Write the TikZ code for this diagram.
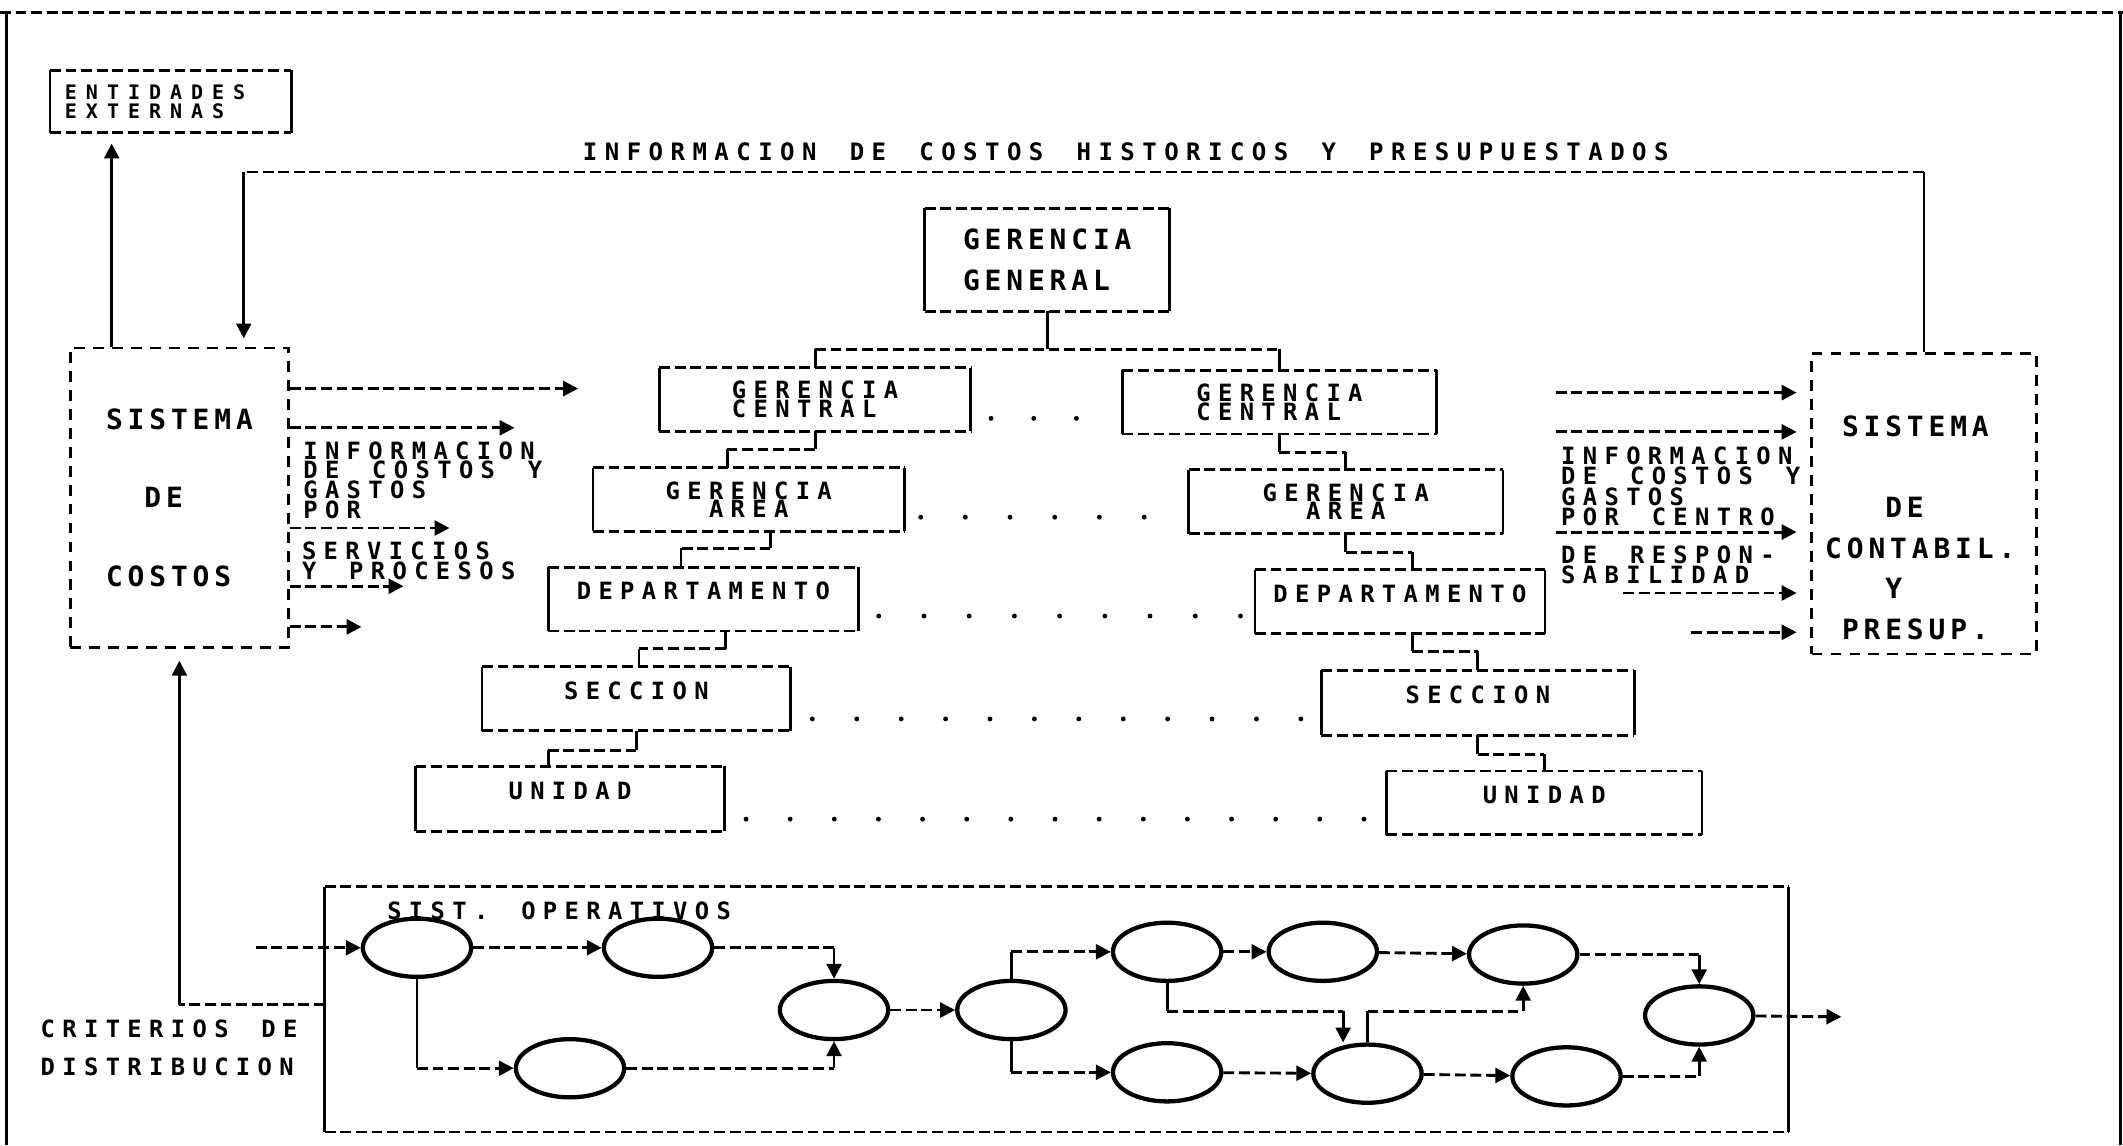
\documentclass[tikz,border=0pt]{standalone}
\usepackage{fontspec}
\usepackage{tikz}
\usetikzlibrary{arrows.meta, shapes.geometric}
\newfontfamily\dotfont{DejaVu Sans Mono}[LetterSpace=31, WordSpace=1.515]
\newfontfamily\bigfont{DejaVu Sans Mono}[LetterSpace=17.5, WordSpace=1.29]
\newfontfamily\entfont{DejaVu Sans Mono}[LetterSpace=45]

% upper node, x shift, bar y, lower node, x shift
\newcommand{\orglink}[5]{%
  \coordinate (lkA) at ([xshift=#2]#1.south);
  \coordinate (lkB) at ([xshift=#5]#4.north);
  \draw (lkA) -- (lkA |- 0,#3);
  \draw[dline] (lkA |- 0,#3) -- (lkB |- 0,#3);
  \draw (lkB |- 0,#3) -- (lkB);
}

\begin{document}
\begin{tikzpicture}[
    x=0.1mm, y=-0.1mm, line width=0.6pt,
    dline/.style={dash pattern=on 0.8mm off 0.35mm},
    arrow/.style={-{Triangle[length=1.1mm, width=1.1mm]}},
    sysbox/.style={rectangle, draw, dash pattern=on 0.8mm off 0.6mm, inner sep=0pt, minimum width=16.1mm, minimum height=22.1mm},
    hbox/.style={rectangle, inner sep=0pt, append after command={
        (\tikzlastnode.north west) edge[dline] (\tikzlastnode.north east)
        (\tikzlastnode.south west) edge[dline] (\tikzlastnode.south east)
        (\tikzlastnode.north west) edge (\tikzlastnode.south west)
        (\tikzlastnode.north east) edge (\tikzlastnode.south east)}},
    orgbox/.style={hbox, minimum width=22.8mm, minimum height=4.5mm, align=center, font=\dotfont\bfseries\fontsize{5}{3.9}\selectfont},
    onerow/.style={text height=1.3mm, text depth=1.2mm},
    proc/.style={ellipse, draw, line width=0.9pt, minimum width=8mm, minimum height=4.3mm, inner sep=0pt},
    note/.style={anchor=north west, inner sep=0pt, align=left, font=\dotfont\bfseries\fontsize{5}{4.15}\selectfont},
    bigtxt/.style={align=left, inner sep=0pt, font=\bigfont\bfseries\fontsize{5.86}{8.54}\selectfont},
]
\useasboundingbox (0,0) rectangle (1568,846);

% Frame
\draw[dline] (0,9.5) -- (1568,9.5);
\draw (5,9.5) -- (5,846);
\draw (1566,9.5) -- (1566,846);

% Nodes
\node[hbox, minimum width=17.6mm, minimum height=4.4mm, text width=15.6mm, inner xsep=1mm, align=left, font=\entfont\bfseries\fontsize{4.2}{3.98}\selectfont] (ent) at (126,75) {ENTIDADES\\EXTERNAS};
\node[sysbox, bigtxt, font=\bigfont\bfseries\fontsize{5.86}{16.5}\selectfont] (ssc) at (132.5,367.5) {SISTEMA\\\hphantom{SI}DE\\COSTOS};
\node[sysbox, minimum width=16.6mm, minimum height=22.2mm] (scp) at (1421,372) {};
\node[bigtxt, anchor=north west] (scptxt) at (1347,306) {\hphantom{C}SISTEMA\\\mbox{}\\\hphantom{CON}DE\\CONTABIL.\\\hphantom{CON}Y\\\hphantom{C}PRESUP.};
\node[hbox, bigtxt, minimum width=17.9mm, minimum height=7.4mm] (gg) at (773.5,192) {GERENCIA\\GENERAL};

% Org boxes
\node[orgbox, align=left] (gc1) at (602,295) {GERENCIA\\CENTRAL};
\node[orgbox, align=left, minimum width=23mm] (gc2) at (945,297) {GERENCIA\\CENTRAL};
\node[orgbox] (ga1) at (553,369) {GERENCIA\\AREA};
\node[orgbox, minimum width=23mm] (ga2) at (994,370.5) {GERENCIA\\AREA};
\node[orgbox, onerow, minimum width=22.7mm] (dep1) at (519.5,442.5) {DEPARTAMENTO};
\node[orgbox, onerow, minimum width=21.2mm] (dep2) at (1034,444.5) {DEPARTAMENTO};
\node[orgbox, onerow, minimum width=22.6mm] (sec1) at (470,516) {SECCION};
\node[orgbox, onerow, minimum width=22.9mm, minimum height=4.6mm] (sec2) at (1091.5,519) {SECCION};
\node[orgbox, onerow, minimum width=22.6mm, minimum height=4.6mm] (uni1) at (421,590) {UNIDAD};
\node[orgbox, onerow, minimum width=23.1mm] (uni2) at (1140.5,593) {UNIDAD};

% Labels
\node[inner sep=0pt, font=\dotfont\bfseries\fontsize{5.05}{5.5}\selectfont] (histlbl) at (831.5,112) {INFORMACION DE COSTOS HISTORICOS Y PRESUPUESTADOS};
\node[note] (lftxt1) at (223,325) {INFORMACION\\DE COSTOS Y\\GASTOS\\POR};
\node[note] (lftxt2) at (222,399) {SERVICIOS\\Y PROCESOS};
\node[note, font=\dotfont\bfseries\fontsize{5}{4.27}\selectfont] (rttxt1) at (1152,329) {INFORMACION\\DE COSTOS Y\\GASTOS\\POR CENTRO};
\node[note, font=\dotfont\bfseries\fontsize{5}{4.27}\selectfont] (rttxt2) at (1152,402) {DE RESPON-\\SABILIDAD};

% Operating systems
\node[hbox, minimum width=107.9mm, minimum height=17.9mm] (sop) at (780.5,745.5) {};
\node[note] (soplbl) at (285,665) {SIST. OPERATIVOS};
\node[note, font=\dotfont\bfseries\fontsize{5}{8.1}\selectfont] (crit) at (29,752) {CRITERIOS DE\\DISTRIBUCION};
\node[proc] (p1) at (308,700) {};
\node[proc] (p2) at (486,700) {};
\node[proc] (p3) at (421,789) {};
\node[proc] (p4) at (616,746) {};
\node[proc] (p5) at (747,746) {};
\node[proc] (p6) at (862,703) {};
\node[proc] (p7) at (977,703) {};
\node[proc] (p8) at (1125,705) {};
\node[proc] (p9) at (1255,750) {};
\node[proc] (p10) at (862,792) {};
\node[proc] (p11) at (1010,793) {};
\node[proc] (p12) at (1157,795) {};

% Arrows
\coordinate (entup) at ([xshift=-5mm]ssc.north);
\draw[arrow, shorten >=0.8mm] (entup) -- (entup |- ent.south);
\draw (scp.north) -- (scp.north |- 0,127) coordinate (infr);
\draw[dline] (infr) -- (180,127) coordinate (infl);
\draw[arrow, shorten >=0.6mm] (infl) -- (infl |- ssc.north);
\foreach \y/\x in {287/427, 316/380, 390/332, 433/298, 463/267} {
  \coordinate (out\y) at (\x,\y);
  \draw[arrow, dline] (ssc.east |- out\y) -- (out\y);
}
\foreach \y/\x in {290/1149, 319/1149, 393/1149, 438/1199, 467/1249} {
  \coordinate (in\y) at (\x,\y);
  \draw[arrow, dline, shorten >=1mm] (in\y) -- (in\y -| scp.west);
}

% Org links
\draw (gg.south) -- (gg.south |- 0,258);
\draw[dline] (gc1.north |- 0,258) -- (gc2.north |- 0,258);
\draw (gc1.north |- 0,258) -- (gc1.north);
\draw (gc2.north |- 0,258) -- (gc2.north);
\orglink{gc1}{0mm}{332}{ga1}{-1.6mm}
\orglink{gc2}{0mm}{334}{ga2}{0mm}
\orglink{ga1}{1.6mm}{405}{dep1}{-1.65mm}
\orglink{ga2}{0mm}{408}{dep2}{0.9mm}
\orglink{dep1}{1.65mm}{479}{sec1}{0.2mm}
\orglink{dep2}{0.9mm}{481}{sec2}{0mm}
\orglink{sec1}{0mm}{554}{uni1}{-1.6mm}
\orglink{sec2}{0mm}{557}{uni2}{0mm}
\foreach \y/\a/\n/\d in {309/732/2/31.5, 382/680/5/33, 455/649/8/33.4, 531/600/11/32.8, 605/551/14/32.6}
  \foreach \i in {0,...,\n}
    \fill (\a+\i*\d,\y) circle (0.18mm);

% Process links
\draw[dline] (sop.west |- 0,742) -- (ssc.south |- 0,742) coordinate (critc);
\draw[arrow, shorten >=0.9mm] (critc) -- (ssc.south);
\coordinate (opin) at (189,700);
\coordinate (opout) at (1360,751);
\draw[arrow, dline] (opin) -- (p1);
\draw[arrow, dline] (p1) -- (p2);
\draw (p1.south) -- (p1.south |- p3);
\draw[arrow, dline] (p1.south |- p3) -- (p3);
\draw[dline] (p2) -- (p2 -| p4);
\draw[arrow] (p2 -| p4) -- (p4);
\draw[dline] (p3) -- (p3 -| p4);
\draw[arrow] (p3 -| p4) -- (p4);
\draw[arrow, dline] (p4) -- (p5);
\draw (p5.north) -- (p5.north |- p6);
\draw[arrow, dline] (p5.north |- p6) -- (p6);
\draw (p5.south) -- (p5.south |- p10);
\draw[arrow, dline] (p5.south |- p10) -- (p10);
\draw[arrow, dline] (p6) -- (p7);
\draw[arrow, dline] (p7) -- (p8);
\draw[dline] (p8) -- (p8 -| p9);
\draw[arrow] (p8 -| p9) -- (p9);
\draw[arrow, dline] (p10) -- (p11);
\draw[arrow, dline] (p11) -- (p12);
\draw[dline] (p12) -- (p12 -| p9);
\draw[arrow] (p12 -| p9) -- (p9);
\coordinate (xa) at ([xshift=-1.8mm]p11.north);
\draw (p6.south) -- (p6.south |- 0,747);
\draw[dline] (p6.south |- 0,747) -- (xa |- 0,747);
\draw[arrow] (xa |- 0,747) -- (xa);
\draw (p11.north) -- (p11.north |- 0,747);
\draw[dline] (p11.north |- 0,747) -- (p8.south |- 0,747);
\draw[arrow] (p8.south |- 0,747) -- (p8.south);
\draw[arrow, dline] (p9) -- (opout);

\end{tikzpicture}
\end{document}
